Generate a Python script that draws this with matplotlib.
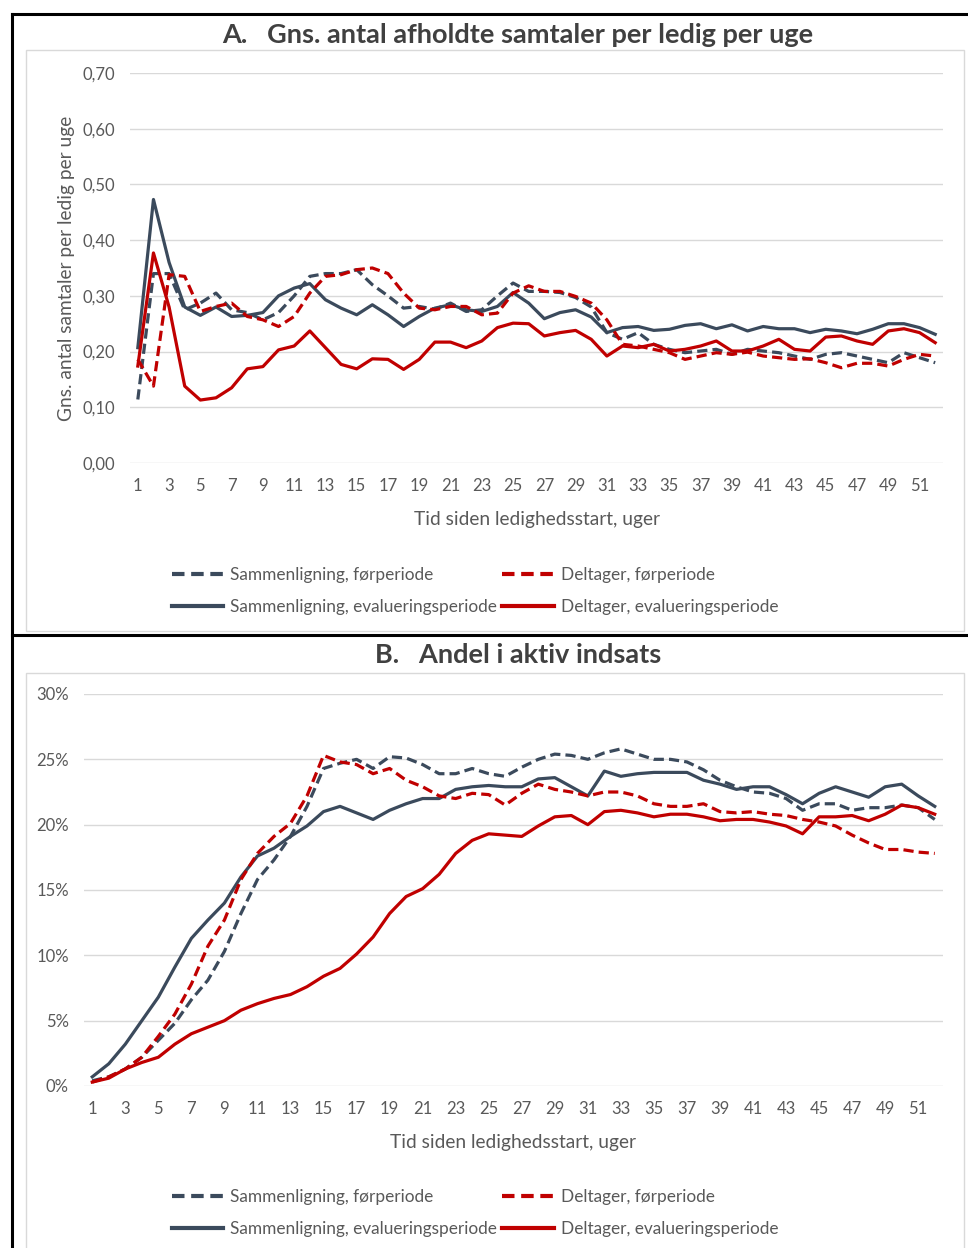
import matplotlib
matplotlib.use("Agg")
import matplotlib.pyplot as plt
from matplotlib.lines import Line2D
from matplotlib.patches import Rectangle
from matplotlib.ticker import FuncFormatter

plt.rcParams['font.family'] = ['Lato', 'DejaVu Sans']

uger = list(range(1, 53))

# Panel A: gns. antal afholdte samtaler per ledig per uge
samtaler_sam_for = [0.114, 0.34, 0.34, 0.275, 0.287, 0.305, 0.275, 0.27, 0.257, 0.27,
                    0.30, 0.335, 0.34, 0.34, 0.347, 0.32, 0.30, 0.278, 0.281, 0.276,
                    0.287, 0.272, 0.275, 0.30, 0.323, 0.308, 0.308, 0.306, 0.297, 0.28,
                    0.234, 0.222, 0.234, 0.213, 0.204, 0.198, 0.201, 0.204, 0.195, 0.204,
                    0.201, 0.198, 0.192, 0.186, 0.195, 0.198, 0.192, 0.186, 0.18, 0.198,
                    0.189, 0.18]
samtaler_del_for = [0.186, 0.138, 0.338, 0.335, 0.272, 0.281, 0.287, 0.263, 0.257, 0.245,
                    0.263, 0.305, 0.335, 0.338, 0.347, 0.35, 0.34, 0.305, 0.278, 0.275,
                    0.281, 0.281, 0.266, 0.269, 0.305, 0.318, 0.308, 0.308, 0.299, 0.287,
                    0.257, 0.213, 0.21, 0.204, 0.198, 0.186, 0.192, 0.198, 0.195, 0.199,
                    0.192, 0.189, 0.186, 0.187, 0.18, 0.171, 0.179, 0.179, 0.174, 0.186,
                    0.195, 0.192]
samtaler_sam_eval = [0.207, 0.473, 0.36, 0.28, 0.265, 0.28, 0.263, 0.265, 0.27, 0.30,
                     0.314, 0.322, 0.293, 0.278, 0.266, 0.284, 0.266, 0.245, 0.263, 0.278,
                     0.284, 0.275, 0.272, 0.281, 0.306, 0.287, 0.259, 0.27, 0.275, 0.262,
                     0.234, 0.243, 0.245, 0.238, 0.24, 0.247, 0.25, 0.241, 0.248, 0.237,
                     0.245, 0.241, 0.241, 0.234, 0.24, 0.237, 0.232, 0.24, 0.25, 0.25,
                     0.243, 0.231]
samtaler_del_eval = [0.174, 0.377, 0.28, 0.138, 0.113, 0.117, 0.135, 0.169, 0.173, 0.203,
                     0.21, 0.237, 0.207, 0.177, 0.169, 0.187, 0.186, 0.168, 0.186, 0.217,
                     0.217, 0.207, 0.219, 0.243, 0.251, 0.25, 0.228, 0.234, 0.238, 0.222,
                     0.192, 0.21, 0.207, 0.213, 0.201, 0.204, 0.21, 0.219, 0.201, 0.201,
                     0.21, 0.222, 0.204, 0.201, 0.226, 0.228, 0.219, 0.213, 0.237, 0.241,
                     0.234, 0.216]

# Panel B: andel i aktiv indsats (%)
aktiv_sam_for = [0.4, 0.7, 1.3, 2.2, 3.5, 4.8, 6.6, 8.1, 10.3, 13.2,
                 15.8, 17.3, 19.1, 21.4, 24.3, 24.7, 25.0, 24.3, 25.2, 25.1,
                 24.6, 23.9, 23.9, 24.3, 23.9, 23.7, 24.4, 25.0, 25.4, 25.3,
                 25.0, 25.5, 25.8, 25.4, 25.0, 25.0, 24.8, 24.2, 23.4, 22.9,
                 22.5, 22.4, 22.0, 21.1, 21.6, 21.6, 21.1, 21.3, 21.3, 21.5,
                 21.3, 20.4]
aktiv_del_for = [0.3, 0.7, 1.3, 2.2, 3.8, 5.5, 7.8, 10.7, 12.7, 15.8,
                 17.8, 19.1, 20.1, 22.2, 25.3, 24.8, 24.6, 23.9, 24.3, 23.4,
                 22.9, 22.2, 22.0, 22.4, 22.3, 21.5, 22.4, 23.1, 22.7, 22.5,
                 22.2, 22.5, 22.5, 22.2, 21.6, 21.4, 21.4, 21.6, 21.0, 20.9,
                 21.0, 20.8, 20.7, 20.4, 20.2, 19.9, 19.2, 18.6, 18.1, 18.1,
                 17.9, 17.8]
aktiv_sam_eval = [0.7, 1.7, 3.2, 5.0, 6.8, 9.1, 11.3, 12.7, 14.0, 16.0,
                  17.6, 18.2, 19.1, 19.9, 21.0, 21.4, 20.9, 20.4, 21.1, 21.6,
                  22.0, 22.0, 22.7, 22.9, 23.0, 22.9, 22.9, 23.5, 23.6, 22.9,
                  22.2, 24.1, 23.7, 23.9, 24.0, 24.0, 24.0, 23.4, 23.1, 22.7,
                  22.9, 22.9, 22.3, 21.6, 22.4, 22.9, 22.5, 22.1, 22.9, 23.1,
                  22.2, 21.4]
aktiv_del_eval = [0.3, 0.6, 1.3, 1.8, 2.2, 3.2, 4.0, 4.5, 5.0, 5.8,
                  6.3, 6.7, 7.0, 7.6, 8.4, 9.0, 10.1, 11.4, 13.2, 14.5,
                  15.1, 16.2, 17.8, 18.8, 19.3, 19.2, 19.1, 19.9, 20.6, 20.7,
                  20.0, 21.0, 21.1, 20.9, 20.6, 20.8, 20.8, 20.6, 20.3, 20.4,
                  20.4, 20.2, 19.9, 19.3, 20.6, 20.6, 20.7, 20.3, 20.8, 21.5,
                  21.3, 20.8]

serie_navne = ['Sammenligning, førperiode', 'Sammenligning, evalueringsperiode',
               'Deltager, førperiode', 'Deltager, evalueringsperiode']

MORK = '#3b4a5c'
ROD = '#c00000'
TXT = '#595959'
DASH = (0, (3.2, 1.6))
W, H = 968, 1248


def fx(x):
    return x / W


def fy(y):
    return 1 - y / H


def pos(l, t, r, b):
    return [fx(l), fy(b), fx(r) - fx(l), fy(t) - fy(b)]


fig = plt.figure(figsize=(W / 100, H / 100), dpi=100)

# ramme (tabel)
for (x0, y0, x1, y1) in [(12, 14, 968, 14), (12, 14, 12, 1248), (12, 635, 968, 635)]:
    fig.add_artist(Line2D([fx(x0), fx(x1)], [fy(y0), fy(y1)], color='black', lw=2.2,
                          transform=fig.transFigure))
# lysegraa diagramrammer
fig.add_artist(Rectangle((fx(26), fy(631)), fx(964) - fx(26), fy(50) - fy(631), fill=False,
                         ec='#d9d9d9', lw=1, transform=fig.transFigure))
fig.add_artist(Rectangle((fx(26), fy(1260)), fx(964) - fx(26), fy(673) - fy(1260), fill=False,
                         ec='#d9d9d9', lw=1, transform=fig.transFigure))


def tegn(ax, sam_for, sam_eval, del_for, del_eval):
    ax.plot(uger, sam_for, color=MORK, lw=2.3, ls=DASH)
    ax.plot(uger, sam_eval, color=MORK, lw=2.3)
    ax.plot(uger, del_for, color=ROD, lw=2.3, ls=DASH)
    ax.plot(uger, del_eval, color=ROD, lw=2.3)
    ax.set_xlim(0.5, 52.5)
    ax.set_xticks(range(1, 53, 2))
    ax.grid(axis='y', color='#d9d9d9', lw=1)
    ax.set_axisbelow(True)
    for s in ax.spines.values():
        s.set_visible(False)
    ax.tick_params(length=0, colors=TXT, labelsize=12)
    ax.tick_params(axis='x', pad=11)
    ax.tick_params(axis='y', pad=11)
    ax.set_xlabel('Tid siden ledighedsstart, uger', color=TXT, fontsize=13.8, labelpad=12)


def legende(y):
    dash = (0, (3.0, 1.6))
    handles = [Line2D([], [], color=MORK, lw=3, ls=dash),
               Line2D([], [], color=MORK, lw=3),
               Line2D([], [], color=ROD, lw=3, ls=dash),
               Line2D([], [], color=ROD, lw=3)]
    fig.legend(handles, serie_navne, ncol=2, loc='upper left', bbox_to_anchor=(fx(163), fy(y)),
               frameon=False, fontsize=12.4, labelcolor=TXT, handlelength=3.0, handletextpad=0.4,
               columnspacing=0.3, labelspacing=0.95, borderpad=0)


# Panel A
axA = fig.add_axes(pos(130, 73, 943, 463))
tegn(axA, samtaler_sam_for, samtaler_sam_eval, samtaler_del_for, samtaler_del_eval)
axA.set_ylim(0, 0.70)
axA.set_yticks([i / 10 for i in range(8)])
axA.yaxis.set_major_formatter(FuncFormatter(lambda v, p: f'{v:.2f}'.replace('.', ',')))
axA.set_ylabel('Gns. antal samtaler per ledig per uge', color=TXT, fontsize=13.8, labelpad=5)
fig.text(fx(518), fy(35), 'A.   Gns. antal afholdte samtaler per ledig per uge', ha='center',
         va='center', fontsize=19.5, fontweight='bold', color='#404040')
legende(558)

# Panel B
axB = fig.add_axes(pos(84, 694, 943, 1086))
tegn(axB, aktiv_sam_for, aktiv_sam_eval, aktiv_del_for, aktiv_del_eval)
axB.set_ylim(0, 30)
axB.set_yticks(range(0, 31, 5))
axB.yaxis.set_major_formatter(FuncFormatter(lambda v, p: f'{v:.0f}%'))
fig.text(fx(518), fy(655), 'B.   Andel i aktiv indsats', ha='center',
         va='center', fontsize=19.5, fontweight='bold', color='#404040')
legende(1180)

fig.savefig('out.png', dpi=100)
